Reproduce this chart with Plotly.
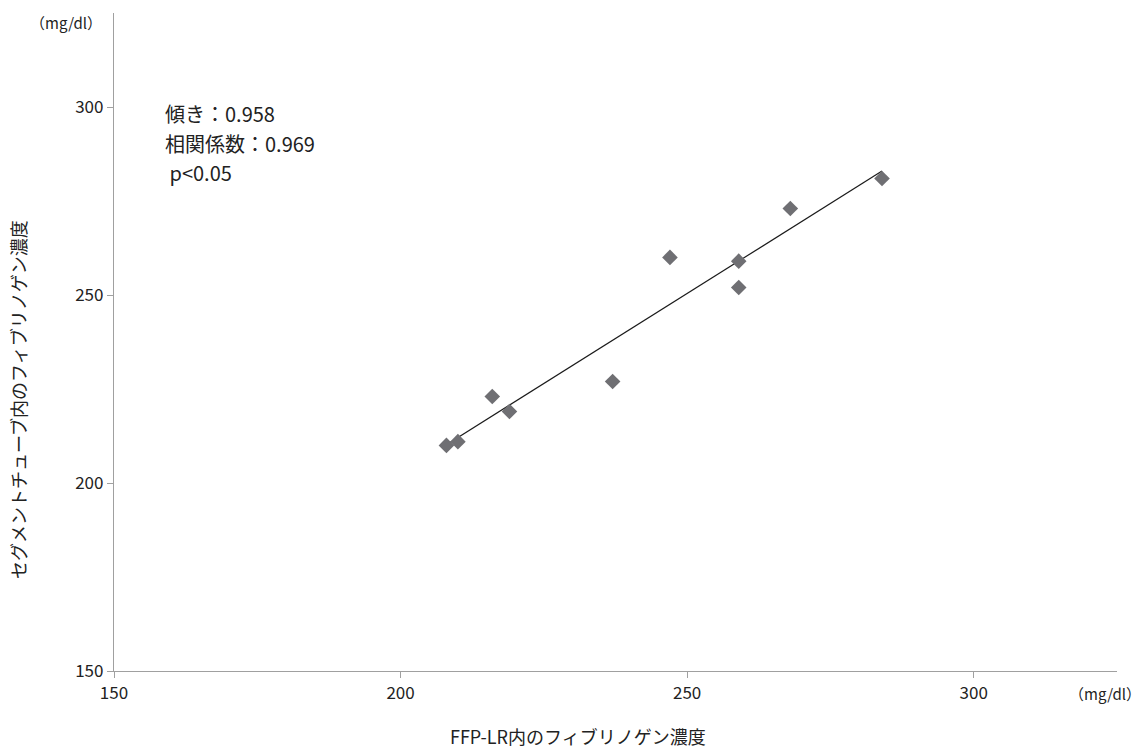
import numpy as np
import plotly.graph_objects as go

# Fibrinogen concentration (mg/dl): FFP-LR bag vs. segment tube
ffp_lr = [208, 210, 216, 219, 237, 247, 259, 259, 268, 284]
segment = [210, 211, 223, 219, 227, 260, 259, 252, 273, 281]

x_ticks = [150, 200, 250, 300]
y_ticks = [150, 200, 250, 300]
stats_lines = ["傾き：0.958", "相関係数：0.969", " p<0.05"]

FONT = "Noto Sans CJK JP, Noto Sans, sans-serif"
TEXT = "#222222"
AXIS = "#a0a0a0"

# least-squares trend line over the observed x range
slope, intercept = np.polyfit(ffp_lr, segment, 1)
fit_x = [min(ffp_lr), max(ffp_lr)]
fit_y = [slope * v + intercept for v in fit_x]

fig = go.Figure()
fig.add_trace(go.Scatter(
    x=fit_x, y=fit_y, mode="lines",
    line=dict(color="#1a1a1a", width=1.2),
    hoverinfo="skip", showlegend=False,
))
fig.add_trace(go.Scatter(
    x=ffp_lr, y=segment, mode="markers",
    marker=dict(symbol="diamond", size=12, color="#6f6f73", line=dict(width=0)),
    showlegend=False,
))

axis_common = dict(
    showgrid=False, zeroline=False, showline=True,
    linecolor=AXIS, linewidth=1.3,
    ticks="outside", ticklen=6, tickcolor=AXIS, tickwidth=1,
    tickfont=dict(family=FONT, size=17, color=TEXT),
    range=[150, 325], tickmode="array",
)

fig.update_layout(
    width=1145, height=749,
    margin=dict(l=114, r=28, t=13, b=78),
    paper_bgcolor="white", plot_bgcolor="white",
    font=dict(family=FONT, color=TEXT),
    xaxis=dict(**axis_common, tickvals=x_ticks, ticktext=[str(v) for v in x_ticks]),
    yaxis=dict(**axis_common, tickvals=y_ticks, ticktext=[str(v) for v in y_ticks]),
)

annotations = [
    dict(text="（mg/dl）", x=-0.0479, y=0.986, xref="paper", yref="paper",
         xanchor="center", yanchor="middle", showarrow=False,
         font=dict(size=15, color=TEXT, family=FONT)),
    dict(text="（mg/dl）", x=1.026, y=-0.034, xref="paper", yref="paper",
         xanchor="right", yanchor="middle", showarrow=False,
         font=dict(size=15, color=TEXT, family=FONT)),
    dict(text="FFP-LR内のフィブリノゲン濃度", x=0.4626, y=-0.099,
         xref="paper", yref="paper", xanchor="center", yanchor="middle",
         showarrow=False, font=dict(size=18, color=TEXT, family=FONT)),
    dict(text="セグメントチューブ内のフィブリノゲン濃度", x=-0.0957, y=0.412,
         xref="paper", yref="paper", xanchor="center", yanchor="middle",
         showarrow=False, textangle=-90,
         font=dict(size=18, color=TEXT, family=FONT)),
]
line_y = [0.848, 0.802, 0.757]
for txt, yy in zip(stats_lines, line_y):
    annotations.append(dict(
        text=txt, x=0.0489, y=yy, xref="paper", yref="paper",
        xanchor="left", yanchor="middle", showarrow=False,
        font=dict(size=20, color=TEXT, family=FONT),
    ))
fig.update_layout(annotations=annotations)

fig.write_html("out.html")
